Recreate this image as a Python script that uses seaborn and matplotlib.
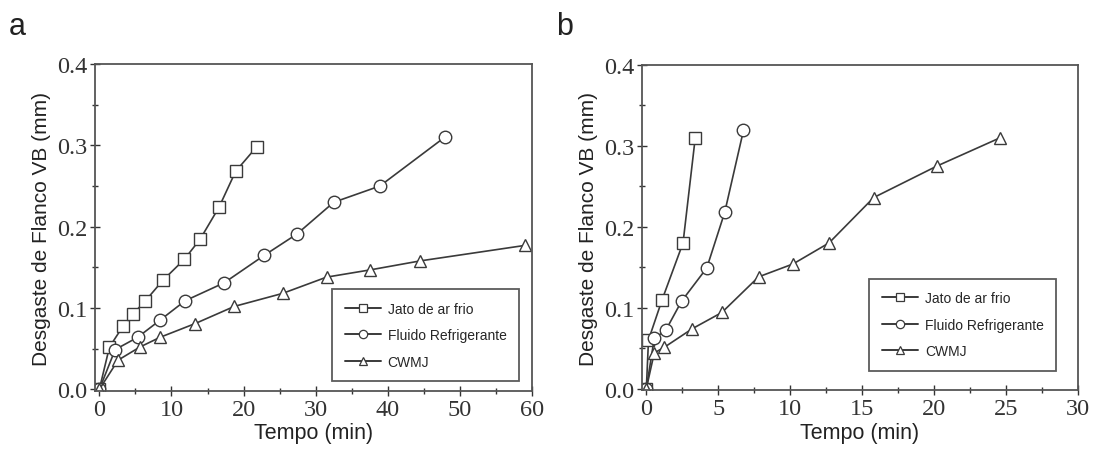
import numpy as np
import pandas as pd
import matplotlib
matplotlib.use("Agg")
import matplotlib.pyplot as plt
import seaborn as sns
from matplotlib.ticker import MultipleLocator

series_names = ["Jato de ar frio", "Fluido Refrigerante", "CWMJ"]
markers = ["s", "o", "^"]

# Panel a
a_jato_t = [0, 1.4, 3.3, 4.7, 6.4, 8.8, 11.8, 14.0, 16.6, 18.9, 21.8]
a_jato_vb = [0, 0.052, 0.078, 0.093, 0.109, 0.134, 0.160, 0.185, 0.224, 0.268, 0.298]
a_fluido_t = [0, 2.2, 5.3, 8.4, 11.9, 17.3, 22.9, 27.4, 32.5, 38.9, 47.9]
a_fluido_vb = [0, 0.049, 0.064, 0.085, 0.109, 0.131, 0.165, 0.191, 0.230, 0.250, 0.310]
a_cwmj_t = [0, 2.6, 5.6, 8.4, 13.3, 18.7, 25.4, 31.5, 37.6, 44.5, 59.0]
a_cwmj_vb = [0, 0.036, 0.052, 0.064, 0.081, 0.102, 0.118, 0.138, 0.147, 0.158, 0.177]

# Panel b
b_jato_t = [0, 0.15, 1.1, 2.55, 3.4]
b_jato_vb = [0, 0.06, 0.11, 0.18, 0.31]
b_fluido_t = [0, 0.55, 1.35, 2.45, 4.2, 5.45, 6.75]
b_fluido_vb = [0, 0.062, 0.072, 0.108, 0.149, 0.218, 0.319]
b_cwmj_t = [0, 0.55, 1.25, 3.2, 5.25, 7.8, 10.2, 12.7, 15.8, 20.2, 24.6]
b_cwmj_vb = [0, 0.044, 0.051, 0.074, 0.094, 0.138, 0.154, 0.180, 0.236, 0.275, 0.310]

x_ticks_a = [0, 10, 20, 30, 40, 50, 60]
x_ticks_b = [0, 5, 10, 15, 20, 25, 30]
y_ticks = [0.0, 0.1, 0.2, 0.3, 0.4]


def make_df(ts, vbs):
    frames = []
    for name, t, v in zip(series_names, ts, vbs):
        frames.append(pd.DataFrame({"t": t, "vb": v, "serie": name}))
    return pd.concat(frames, ignore_index=True)


df_a = make_df([a_jato_t, a_fluido_t, a_cwmj_t], [a_jato_vb, a_fluido_vb, a_cwmj_vb])
df_b = make_df([b_jato_t, b_fluido_t, b_cwmj_t], [b_jato_vb, b_fluido_vb, b_cwmj_vb])

sns.set_theme(style="white")
plt.rcParams["font.family"] = ["Liberation Sans", "DejaVu Sans"]

fig = plt.figure(figsize=(11.02, 4.64), dpi=100)
ax_a = fig.add_axes([0.0862, 0.155, 0.3966, 0.705])
ax_b = fig.add_axes([0.5826, 0.157, 0.3956, 0.701])

line_col = "#3a3a3a"


def draw(ax, df, xmax, xticks, xminor):
    sns.lineplot(data=df, x="t", y="vb", hue="serie", style="serie",
                 markers=markers, dashes=False, palette=[line_col] * 3,
                 hue_order=series_names, style_order=series_names,
                 markersize=9, markerfacecolor="white", markeredgecolor=line_col,
                 markeredgewidth=1.0, linewidth=1.2, ax=ax, sort=False,
                 estimator=None)
    ax.set_xlim(-0.3 if xmax == 30 else -0.6, xmax)
    ax.set_ylim(-0.002, 0.4)
    ax.set_xticks(xticks)
    ax.set_yticks(y_ticks)
    ax.set_yticklabels([f"{v:.1f}" for v in y_ticks])
    ax.xaxis.set_minor_locator(MultipleLocator(xminor))
    ax.yaxis.set_minor_locator(MultipleLocator(0.05))
    for lab in ax.get_xticklabels() + ax.get_yticklabels():
        lab.set_family(["Liberation Serif"])
        lab.set_fontsize(17.5)
        lab.set_color("#333333")
    ax.tick_params(which="major", direction="inout", length=7, width=1.0,
                   color="#333333", bottom=True, left=True, pad=2)
    ax.tick_params(which="minor", direction="inout", length=4, width=1.0,
                   color="#333333", bottom=True, left=True)
    for sp in ax.spines.values():
        sp.set_color("#555555")
        sp.set_linewidth(1.3)
    ax.set_xlabel("Tempo (min)", fontsize=15.5, color="#222222", labelpad=2)
    ax.set_ylabel("Desgaste de Flanco VB (mm)", fontsize=15, color="#222222", labelpad=4)
    handles, labels = ax.get_legend_handles_labels()
    for h in handles:
        h.set_markerfacecolor("white")
        h.set_markeredgecolor(line_col)
        h.set_markersize(6)
        h.set_markeredgewidth(0.9)
        h.set_linewidth(1.4)
    return handles, labels


h, l = draw(ax_a, df_a, 60, x_ticks_a, 5)
leg = ax_a.legend(h, l, loc="lower right", bbox_to_anchor=(0.97, 0.03),
                  fontsize=10, frameon=True, fancybox=False, edgecolor="#333333",
                  handlelength=2.6, handletextpad=0.5, borderpad=0.9,
                  labelspacing=0.9, borderaxespad=0)
leg.get_frame().set_linewidth(1.3)

h, l = draw(ax_b, df_b, 30, x_ticks_b, 2.5)
leg = ax_b.legend(h, l, loc="lower right", bbox_to_anchor=(0.95, 0.06),
                  fontsize=10, frameon=True, fancybox=False, edgecolor="#333333",
                  handlelength=2.6, handletextpad=0.5, borderpad=0.9,
                  labelspacing=0.9, borderaxespad=0)
leg.get_frame().set_linewidth(1.3)

fig.text(0.008, 0.925, "a", fontsize=22, color="#222222")
fig.text(0.505, 0.925, "b", fontsize=22, color="#222222")

fig.savefig("out.png", dpi=100)
